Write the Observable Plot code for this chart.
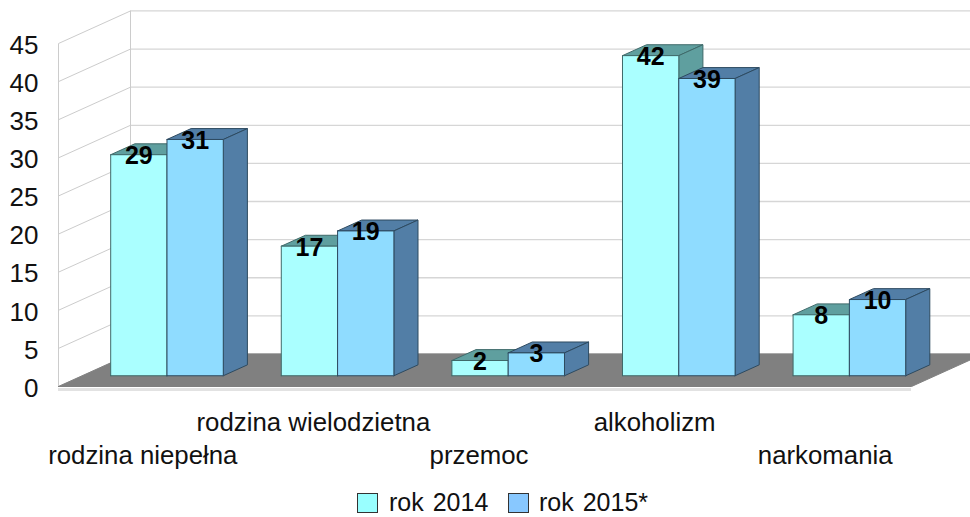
<!DOCTYPE html>
<html lang="pl">
<head>
<meta charset="utf-8">
<script src="https://cdn.jsdelivr.net/npm/d3@7"></script>
<script src="https://cdn.jsdelivr.net/npm/@observablehq/plot@0.6"></script>
<style>
html,body{margin:0;padding:0;background:#fff;overflow:hidden;width:970px;height:517px}
#legend{position:relative;height:27px;font:25px "Liberation Sans",Arial,sans-serif;color:#111}
#legend i{position:absolute;top:3px;width:19px;height:18px;border:1px solid #333;display:block}
#legend span{position:absolute;top:1px;line-height:23px;word-spacing:2px;white-space:nowrap}
svg{overflow:hidden;display:block}
</style>
</head>
<body>
<div id="chart"></div>
<div id="legend"></div>
<script>
const categories = ["rodzina niepełna", "rodzina wielodzietna", "przemoc", "alkoholizm", "narkomania"];
const seriesNames = ["rok 2014", "rok 2015*"];
const values2014 = [29, 17, 2, 42, 8];
const values2015 = [31, 19, 3, 39, 10];
const yTicks = [0, 5, 10, 15, 20, 25, 30, 35, 40, 45];
const frontColors = ["#aaffff", "#8fdcff"];
const shadeColors = ["#5f9f9f", "#527ea6"];
const edgeColors = ["#3f6a6a", "#2d4a60"];
const legendColors = ["#99ffff", "#88c8ff"];

// Oblique depth of the chart box, in data units (x: categories, y: values)
const depthX = 0.422, depthY = 4.27;
const barFront = 0.33, barBack = 0.665;
const barWidth = 0.33;
const pt = (x, y, z) => ({x: x + z * depthX, y: y + z * depthY});

const faces = [];
function addFace(id, fill, stroke, pts) {
  [...pts, pts[0]].forEach(p => faces.push({id, fill, stroke, ...p}));
}
categories.forEach((c, i) => {
  [values2014, values2015].forEach((vals, s) => {
    const v = vals[i], x0 = i + 1 / 6 + s * barWidth, x1 = x0 + barWidth;
    const f = barFront, b = barBack;
    addFace(`${i}-${s}-top`, shadeColors[s], edgeColors[s], [pt(x0, v, f), pt(x1, v, f), pt(x1, v, b), pt(x0, v, b)]);
    addFace(`${i}-${s}-side`, shadeColors[s], edgeColors[s], [pt(x1, 0, f), pt(x1, v, f), pt(x1, v, b), pt(x1, 0, b)]);
    addFace(`${i}-${s}-front`, frontColors[s], edgeColors[s], [pt(x0, 0, f), pt(x1, 0, f), pt(x1, v, f), pt(x0, v, f)]);
  });
});

const floor = [pt(0, 0, 0), pt(5, 0, 0), pt(5, 0, 1), pt(0, 0, 1), pt(0, 0, 0)];

const labels = categories.flatMap((c, i) => [values2014, values2015].map((vals, s) => ({
  v: vals[i], ...pt(i + 1 / 6 + (s + 0.5) * barWidth, vals[i], barFront)
})));
const cats = categories.map((name, i) => ({name, i, x: i + 0.5, row: i % 2}));

const chart = Plot.plot({
  width: 970,
  height: 490,
  marginLeft: 58,
  marginRight: 59,
  marginTop: 43,
  marginBottom: 104,
  style: {fontFamily: '"Liberation Sans", Arial, sans-serif', background: "#fff", overflow: "hidden"},
  x: {domain: [0, 5], axis: null},
  y: {domain: [0, 45], axis: null},
  marks: [
    Plot.ruleY(yTicks, {y: d => d + depthY, x1: depthX, x2: 5 + depthX, stroke: "#d6d6d6", strokeWidth: 1.3}),
    Plot.link(yTicks, {x1: 0, y1: d => d, x2: depthX, y2: d => d + depthY, stroke: "#cccccc", strokeWidth: 1}),
    Plot.link([0], {x1: 0, y1: 0, x2: 0, y2: 45, stroke: "#cccccc", strokeWidth: 1}),
    Plot.link([0], {x1: depthX, y1: depthY, x2: depthX, y2: 45 + depthY, stroke: "#cccccc", strokeWidth: 1}),
    Plot.ruleY([0], {x1: 0, x2: 5, dy: 3, stroke: "#e2e2e2", strokeWidth: 3}),
    Plot.line(floor, {x: "x", y: "y", fill: "#808080", stroke: "#808080", strokeWidth: 1}),
    Plot.line(faces, {x: "x", y: "y", z: "id", fill: "fill", stroke: "stroke", strokeWidth: 1, strokeLinejoin: "miter"}),
    Plot.text(labels, {x: "x", y: "y", text: "v", fontSize: 25, fontWeight: "bold", fill: "#000", dy: 1.5}),
    Plot.axisY(yTicks, {anchor: "left", tickSize: 0, tickPadding: 20, fontSize: 26, fill: "#111", label: null, tickFormat: d => String(d), dy: 2}),
    Plot.text(cats.filter(d => d.row === 1), {x: "x", y: 0, text: "name", fontSize: 25.8, fill: "#111", dy: 36, dx: -1}),
    Plot.text(cats.filter(d => d.row === 0 && d.i !== 2), {x: "x", y: 0, text: "name", fontSize: 25.8, fill: "#111", dy: 69, dx: -1}),
    Plot.text(cats.filter(d => d.i === 2), {x: "x", y: 0, text: "name", fontSize: 25.8, fill: "#111", dy: 69, dx: -6})
  ]
});
document.getElementById("chart").append(chart);

const lg = document.getElementById("legend");
const swatchLeft = [357, 508], textLeft = [389, 539];
seriesNames.forEach((n, i) => {
  const sw = document.createElement("i");
  sw.style.left = swatchLeft[i] + "px";
  sw.style.background = legendColors[i];
  const t = document.createElement("span");
  t.style.left = textLeft[i] + "px";
  t.textContent = n;
  lg.append(sw, t);
});
</script>
</body>
</html>
